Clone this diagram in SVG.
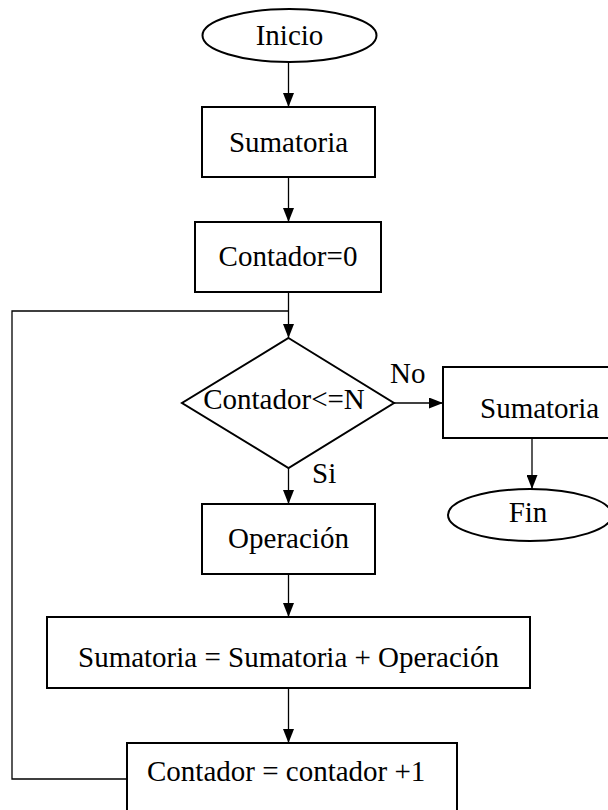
<svg xmlns="http://www.w3.org/2000/svg" width="608" height="810" viewBox="0 0 608 810">
  <style>
    .shape { fill: #ffffff; stroke: #000000; stroke-width: 2; }
    .line { fill: none; stroke: #000000; stroke-width: 1.3; }
    .label { font-family: 'Liberation Serif', Tinos, 'Times New Roman', Times, serif; font-size: 29px; fill: #000000; }
    .mid { text-anchor: middle; }
  </style>
  <defs>
    <marker id="arrow" markerUnits="userSpaceOnUse" markerWidth="14" markerHeight="11" refX="14" refY="5.5" orient="auto">
      <path d="M0,0 L14,5.5 L0,11 Z" fill="#000000"/>
    </marker>
  </defs>

  <rect width="608" height="810" fill="#ffffff"/>

  <g font-family="Liberation Serif, Times New Roman, serif">
  <!-- connectors -->
  <g id="connectors">
    <line class="line" x1="288.5" y1="62" x2="288.5" y2="107" marker-end="url(#arrow)"/>
    <line class="line" x1="288.5" y1="177" x2="288.5" y2="222" marker-end="url(#arrow)"/>
    <line class="line" x1="288.5" y1="292" x2="288.5" y2="338" marker-end="url(#arrow)"/>
    <polyline class="line" points="127,779 12,779 12,311 288.5,311"/>
    <line class="line" x1="394" y1="403" x2="443" y2="403" marker-end="url(#arrow)"/>
    <line class="line" x1="532" y1="438" x2="532" y2="489" marker-end="url(#arrow)"/>
    <line class="line" x1="288.5" y1="468" x2="288.5" y2="504" marker-end="url(#arrow)"/>
    <line class="line" x1="288.5" y1="574" x2="288.5" y2="617" marker-end="url(#arrow)"/>
    <line class="line" x1="288.5" y1="688" x2="288.5" y2="743" marker-end="url(#arrow)"/>
    <text class="label" x="390" y="383">No</text>
    <text class="label" x="312" y="483">Si</text>
  </g>

  <g id="inicio">
    <ellipse class="shape" cx="289.5" cy="35.5" rx="87" ry="26.5"/>
    <text class="label mid" x="289.5" y="45">Inicio</text>
  </g>

  <g id="sumatoria-init">
    <rect class="shape" x="202" y="107" width="173" height="70"/>
    <text class="label mid" x="288.5" y="152">Sumatoria</text>
  </g>

  <g id="contador-init">
    <rect class="shape" x="195" y="222" width="186" height="70"/>
    <text class="label mid" x="288" y="266">Contador=0</text>
  </g>

  <g id="condicion">
    <polygon class="shape" points="288.5,338 394,403 288.5,468 182,403"/>
    <text class="label mid" x="284" y="409">Contador&lt;=N</text>
  </g>

  <g id="sumatoria-salida">
    <rect class="shape" x="443" y="367" width="180" height="71"/>
    <text class="label" x="480" y="418">Sumatoria</text>
  </g>

  <g id="fin">
    <ellipse class="shape" cx="530" cy="515" rx="82" ry="26"/>
    <text class="label mid" x="528" y="522">Fin</text>
  </g>

  <g id="operacion">
    <rect class="shape" x="202" y="504" width="173" height="70"/>
    <text class="label mid" x="288.5" y="548">Operación</text>
  </g>

  <g id="acumulado">
    <rect class="shape" x="47" y="617" width="483" height="71"/>
    <text class="label" x="78" y="667">Sumatoria = Sumatoria + Operación</text>
  </g>

  <g id="incremento">
    <rect class="shape" x="127" y="743" width="330" height="80"/>
    <text class="label" x="147" y="781">Contador = contador +1</text>
  </g>
  </g>
</svg>
